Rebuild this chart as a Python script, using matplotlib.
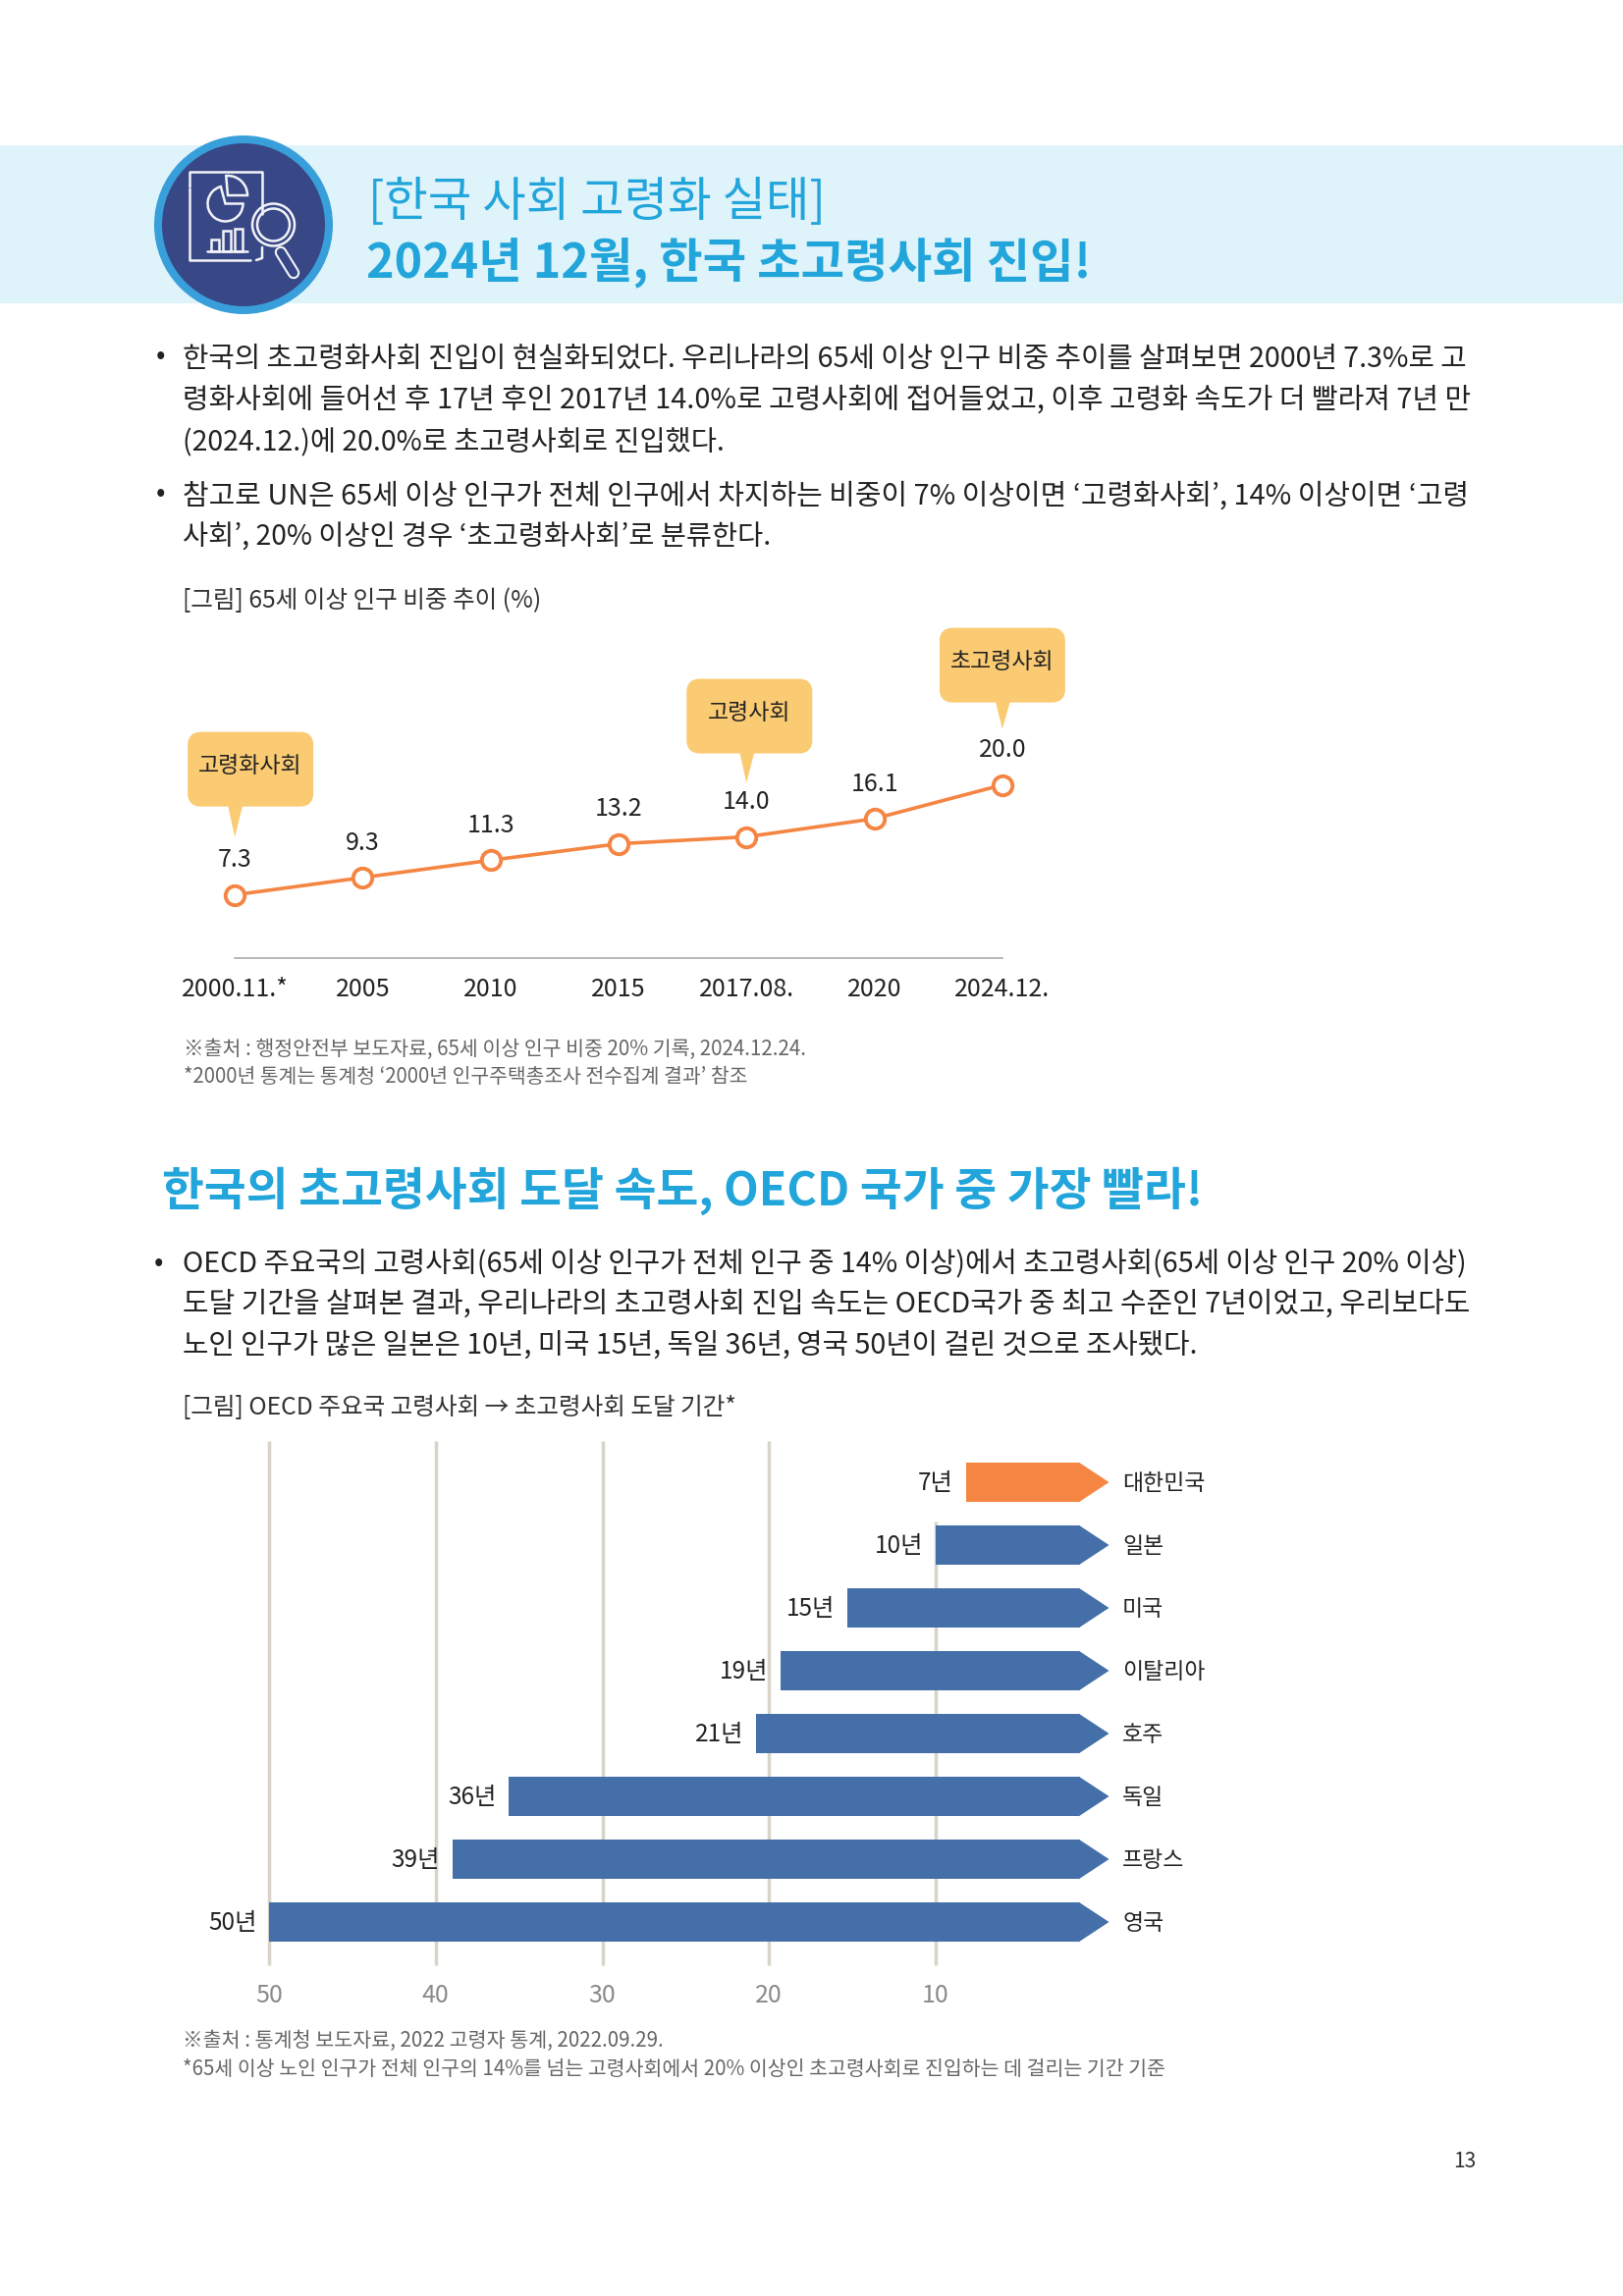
import matplotlib
matplotlib.use('Agg')
import matplotlib.pyplot as plt
from matplotlib.patches import Rectangle, Circle, Wedge, FancyBboxPatch, Polygon

plt.rcParams['font.family'] = ['Noto Sans CJK KR', 'DejaVu Sans']

################ DATA ################
line_labels = ['2000.11.*', '2005', '2010', '2015', '2017.08.', '2020', '2024.12.']
line_values = [7.3, 9.3, 11.3, 13.2, 14.0, 16.1, 20.0]
callout_index = [0, 4, 6]
callout_text = ['고령화사회', '고령사회', '초고령사회']

countries = ['대한민국', '일본', '미국', '이탈리아', '호주', '독일', '프랑스', '영국']
years = [7, 10, 15, 19, 21, 36, 39, 50]  # printed labels
bar_ends = [8.2, 10, 15.3, 19.3, 20.8, 35.6, 39, 50]  # where the bars really start on the axis
axis_ticks = [50, 40, 30, 20, 10]

body_1 = ['한국의 초고령화사회 진입이 현실화되었다. 우리나라의 65세 이상 인구 비중 추이를 살펴보면 2000년 7.3%로 고',
          '령화사회에 들어선 후 17년 후인 2017년 14.0%로 고령사회에 접어들었고, 이후 고령화 속도가 더 빨라져 7년 만',
          '(2024.12.)에 20.0%로 초고령사회로 진입했다.',
          '참고로 UN은 65세 이상 인구가 전체 인구에서 차지하는 비중이 7% 이상이면 ‘고령화사회’, 14% 이상이면 ‘고령',
          '사회’, 20% 이상인 경우 ‘초고령화사회’로 분류한다.']
body_2 = ['OECD 주요국의 고령사회(65세 이상 인구가 전체 인구 중 14% 이상)에서 초고령사회(65세 이상 인구 20% 이상)',
          '도달 기간을 살펴본 결과, 우리나라의 초고령사회 진입 속도는 OECD국가 중 최고 수준인 7년이었고, 우리보다도',
          '노인 인구가 많은 일본은 10년, 미국 15년, 독일 36년, 영국 50년이 걸린 것으로 조사됐다.']

################ COLOURS ################
sky = '#22A5DA'
band = '#DFF3FA'
orange = '#F58542'
navy_bar = '#456FA8'
yellow = '#FBCB73'
grid_col = '#D8D4C8'
ink = '#222222'
note_col = '#666666'

W, H = 1653, 2339
fig = plt.figure(figsize=(W / 100, H / 100), dpi=100)
page = fig.add_axes([0, 0, 1, 1])
page.set_xlim(0, W)
page.set_ylim(H, 0)
page.axis('off')
renderer = fig.canvas.get_renderer()


def fit(x0, x1, y, s, size=18, color=ink, weight='light'):
    # scale the font so the line runs from x0 to x1 like in the layout
    t = page.text(x0, y + 3, s, fontsize=size, color=color, weight=weight, va='center', ha='left')
    w = t.get_window_extent(renderer).width
    t.set_fontsize(size * (x1 - x0) / w)
    return t


def sub_axes(x0, x1, y0, y1):
    # axes placed by page pixels (y0 top, y1 bottom)
    return fig.add_axes([x0 / W, 1 - y1 / H, (x1 - x0) / W, (y1 - y0) / H])


# Header band and icon
page.add_patch(Rectangle((0, 148), W, 161, color=band, lw=0))
page.add_patch(Circle((248, 229), 91, color='#389FDB', lw=0))
page.add_patch(Circle((248, 229), 83, color='#384887', lw=0))
white = dict(color='#F2F3F8', lw=1.8, solid_capstyle='round')
page.plot([193, 193, 267, 267], [190, 175, 175, 218], **white)
page.plot([193, 193, 255], [192, 265, 265], **white)
page.plot([267, 267, 261], [252, 263, 265], **white)
page.add_patch(Wedge((229.5, 207.5), 18, 0, 255, fc='none', ec='#F2F3F8', lw=1.8))
page.add_patch(Wedge((232, 199), 20, 265, 360, fc='none', ec='#F2F3F8', lw=1.8))
page.plot([211, 252], [256, 256], **white)
for bx, btop in [(215, 244), (227, 235), (239, 233)]:
    page.add_patch(Rectangle((bx, btop), 8, 256 - btop, fc='none', ec='#F2F3F8', lw=1.8))
page.add_patch(Circle((278.5, 229), 21.5, fc='#384887', ec='#F2F3F8', lw=1.8))
page.add_patch(Circle((278.5, 229), 16.5, fc='#384887', ec='#F2F3F8', lw=1.8))
page.plot([286, 299], [257, 278], color='#F2F3F8', lw=9, solid_capstyle='round')
page.plot([286, 299], [257, 278], color='#384887', lw=6, solid_capstyle='round')

fit(375, 841, 203, '[한국 사회 고령화 실태]', size=34, color=sky)
fit(373, 1111, 265, '2024년 12월, 한국 초고령사회 진입!', size=36, color=sky, weight='bold')

# First text block
page.text(163, 363, '•', fontsize=20, color=ink, ha='center', va='center')
page.text(163, 503, '•', fontsize=20, color=ink, ha='center', va='center')
for s, x1, y in zip(body_1, [1497, 1497, 738, 1497, 785], [363, 405, 448, 503, 545]):
    fit(186, x1, y, s)
fit(186, 551, 609, '[그림] 65세 이상 인구 비중 추이 (%)', size=15, color='#333333')

# Line chart
ax1 = sub_axes(174, 1086, 640, 976)
ax1.set_xlim(-0.5, 6.5)
ax1.set_ylim(0, 336 / 8.82)
ax1.patch.set_alpha(0)
xs = list(range(len(line_values)))
ax1.plot(xs, line_values, color=orange, lw=2.6, marker='o', ms=14, mfc='white', mec=orange, mew=2.8, clip_on=False)
ax1.plot([xs[0], xs[-1]], [0, 0], color='#AAAAAA', lw=1.2, clip_on=False)
for x, v in zip(xs, line_values):
    ax1.annotate(f'{v:.1f}', (x, v), xytext=(0, 25.5), textcoords='offset points', ha='center', va='center',
                 fontsize=18, weight='light', color=ink)
ax1.set_xticks(xs)
ax1.set_xticklabels(line_labels, fontsize=18, weight='light', color=ink)
ax1.tick_params(axis='x', length=0, pad=14)
ax1.set_yticks([])
for sp in ax1.spines.values():
    sp.set_visible(False)

# Callouts hang over the points they belong to
box_shift = [16, 3, 0]
box_rise = [90, 85, 84]
tip_rise = [59, 55, 57]
for i, s, dx, rise, tr in zip(callout_index, callout_text, box_shift, box_rise, tip_rise):
    px, py = page.transData.inverted().transform(ax1.transData.transform((xs[i], line_values[i])))
    tip = py - tr
    bottom = py - rise
    cx = px + dx
    page.add_patch(FancyBboxPatch((cx - 59, bottom - 71), 118, 66, boxstyle='round,pad=0,rounding_size=8',
                                  fc=yellow, ec=yellow, lw=10 * 0.72, joinstyle='round', zorder=3))
    page.add_patch(Polygon([(px - 7, bottom - 1), (px + 8, bottom - 1), (px, tip)], color=yellow, lw=0, zorder=3))
    page.text(cx, bottom - 41, s, fontsize=16.5, weight='light', color=ink, ha='center', va='center', zorder=4)

fit(187, 822, 1066, '※출처 : 행정안전부 보도자료, 65세 이상 인구 비중 20% 기록, 2024.12.24.', size=13, color=note_col)
fit(187, 763, 1094, '*2000년 통계는 통계청 ‘2000년 인구주택총조사 전수집계 결과’ 참조', size=13, color=note_col)

# Second section
fit(165, 1225, 1210, '한국의 초고령사회 도달 속도, OECD 국가 중 가장 빨라!', size=34, color=sky, weight='bold')
page.text(162, 1287, '•', fontsize=20, color=ink, ha='center', va='center')
for s, x1, y in zip(body_2, [1497, 1497, 1222], [1284, 1326, 1368]):
    fit(186, x1, y, s)
fit(186, 750, 1431, '[그림] OECD 주요국 고령사회 → 초고령사회 도달 기간*', size=15, color='#333333')

# Arrow bars, time axis runs right to left
ax2 = sub_axes(274, 1300, 1468, 2002)
px_per_year = 16.975
ax2.set_xlim(50, 50 - (1300 - 274) / px_per_year)
ax2.set_ylim(7 + (2002 - 1958) / 64, -(1510 - 1468) / 64)
ax2.patch.set_alpha(0)
ys = list(range(len(countries)))
shoulder = 1.4
tip_x = -0.4
bar_h = 0.64
for t in axis_ticks:
    top = 0.62 if t == 10 else ax2.get_ylim()[1]  # the 10 line starts below the first bar
    ax2.plot([t, t], [top, ax2.get_ylim()[0]], color=grid_col, lw=2.5, solid_capstyle='butt', zorder=1, clip_on=False)
for y, end, yr, name in zip(ys, bar_ends, years, countries):
    col = orange if y == 0 else navy_bar
    ax2.barh(y, end - shoulder, left=shoulder, height=bar_h, color=col, lw=0, zorder=2)
    ax2.fill([shoulder + 0.03, tip_x, shoulder + 0.03], [y - bar_h / 2, y, y + bar_h / 2], color=col, lw=0, zorder=2)
    ax2.annotate(f'{yr}년', (end, y), xytext=(-9, -1), textcoords='offset points', ha='right', va='center',
                 fontsize=17.5, weight='light', color=ink)
    ax2.annotate(name, (-1.2, y), xytext=(0, -1), textcoords='offset points', ha='left', va='center',
                 fontsize=16.5, weight='light', color=ink)
ax2.set_xticks(axis_ticks)
ax2.set_xticklabels([str(t) for t in axis_ticks], fontsize=18, weight='light', color='#8A8A8A')
ax2.tick_params(axis='x', length=0, pad=13)
ax2.set_yticks([])
for sp in ax2.spines.values():
    sp.set_visible(False)

fit(186, 676, 2076, '※출처 : 통계청 보도자료, 2022 고령자 통계, 2022.09.29.', size=13, color=note_col)
fit(186, 1186, 2105, '*65세 이상 노인 인구가 전체 인구의 14%를 넘는 고령사회에서 20% 이상인 초고령사회로 진입하는 데 걸리는 기간 기준', size=13, color=note_col)

page.text(1492, 2202, '13', fontsize=15, weight='light', color='#333333', ha='center', va='center')

fig.savefig('out.png', dpi=100)
